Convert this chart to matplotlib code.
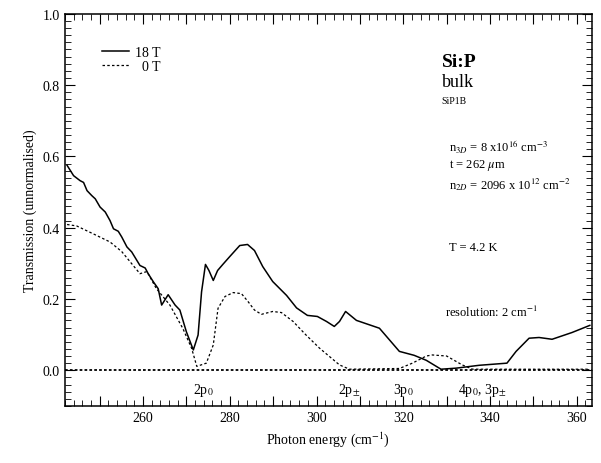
import numpy as np
import matplotlib
matplotlib.use("Agg")
import matplotlib.pyplot as plt
from matplotlib.ticker import MultipleLocator, FuncFormatter

plt.rcParams["font.family"] = ["Liberation Serif", "DejaVu Serif"]
plt.rcParams["mathtext.fontset"] = "stix"

# 18 T spectrum
x_18T = [242.5, 244.0, 245.5, 246.3, 247.1, 248.2, 249.0, 250.1, 251.3, 252.4,
         253.2, 254.3, 255.1, 256.3, 257.4, 258.6, 259.3, 260.5, 261.2, 262.4,
         263.5, 264.3, 265.8, 267.4, 268.5, 270.0, 271.6, 272.7, 273.5, 274.4,
         275.2, 276.2, 277.2, 278.4, 280.0, 282.3, 284.1, 285.7, 287.6, 289.9,
         293.1, 295.4, 297.9, 300.2, 302.3, 304.1, 305.3, 306.7, 309.2, 314.5,
         319.1, 322.5, 325.3, 328.7, 332.2, 337.5, 343.9, 346.0, 349.0, 351.3,
         354.3, 358.9, 363.0]
y_18T = [0.575, 0.546, 0.532, 0.527, 0.504, 0.490, 0.481, 0.458, 0.444, 0.420,
         0.397, 0.390, 0.374, 0.346, 0.332, 0.308, 0.294, 0.287, 0.271, 0.248,
         0.229, 0.183, 0.212, 0.183, 0.169, 0.108, 0.057, 0.099, 0.220, 0.297,
         0.280, 0.252, 0.280, 0.297, 0.319, 0.350, 0.353, 0.336, 0.291, 0.249,
         0.210, 0.175, 0.154, 0.151, 0.137, 0.123, 0.137, 0.165, 0.140, 0.118,
         0.053, 0.042, 0.028, 0.003, 0.006, 0.014, 0.020, 0.053, 0.090, 0.092,
         0.087, 0.106, 0.126]

# 0 T spectrum
x_0T = [242.5, 244.7, 248.5, 252.4, 255.1, 257.4, 259.3, 260.9, 263.1, 266.2,
        269.2, 271.2, 272.4, 274.6, 276.2, 277.3, 278.9, 280.8, 282.7, 284.2,
        285.7, 287.3, 289.9, 291.9, 294.6, 297.5, 300.7, 305.3, 307.6, 319.1,
        322.1, 325.3, 326.7, 330.0, 333.6, 336.0, 363.0]
y_0T = [0.409, 0.405, 0.383, 0.360, 0.333, 0.299, 0.271, 0.277, 0.229, 0.183,
        0.117, 0.062, 0.011, 0.020, 0.071, 0.174, 0.207, 0.218, 0.215, 0.193,
        0.169, 0.157, 0.165, 0.162, 0.137, 0.100, 0.062, 0.015, 0.003, 0.005,
        0.020, 0.040, 0.043, 0.040, 0.015, 0.003, 0.003]

lines_x = [273.8, 307.6, 320.0, 338.2]
lines_lbl = [r"2p$_0$", r"2p$_{\pm}$", r"3p$_0$", r"4p$_0$, 3p$_{\pm}$"]

fig = plt.figure(figsize=(6.01, 4.64), dpi=100)
ax = fig.add_axes([0.108, 0.123, 0.877, 0.845])

ax.axhline(0, color="black", lw=1.3, ls=(0, (1.5, 1.2)))
ax.plot(x_18T, y_18T, color="black", lw=1.1, label="18 T")
ax.plot(x_0T, y_0T, color="black", lw=0.9, ls=(0, (2, 1.8)), label="  0 T")

for xv, lbl in zip(lines_x, lines_lbl):
    ax.text(xv, -0.055, lbl, ha="center", va="center", fontsize=10)

ax.set_xlim(242, 363.5)
ax.set_ylim(-0.1, 1.0)
ax.xaxis.set_major_locator(MultipleLocator(10))
ax.xaxis.set_minor_locator(MultipleLocator(2))
ax.xaxis.set_major_formatter(FuncFormatter(lambda v, p: f"{v:.0f}" if v % 20 == 0 else ""))
ax.yaxis.set_major_locator(MultipleLocator(0.2))
ax.yaxis.set_minor_locator(MultipleLocator(0.02))
ax.yaxis.set_major_formatter(FuncFormatter(lambda v, p: f"{v:.1f}" if v >= -0.01 else ""))
ax.tick_params(which="both", direction="in", top=True, right=True, labelsize=10)
ax.tick_params(which="major", length=7)
ax.tick_params(which="minor", length=4)
for s in ax.spines.values():
    s.set_linewidth(1.1)

ax.set_xlabel(r"Photon energy (cm$^{-1}$)", fontsize=10)
ax.set_ylabel("Transmission (unnormalised)", fontsize=10)

ax.legend(loc="upper left", bbox_to_anchor=(0.046, 0.95), frameon=False,
          fontsize=10, handlelength=2.0, handletextpad=0.4, labelspacing=0.1)

ax.text(0.715, 0.878, "Si:P", transform=ax.transAxes, fontsize=14, fontweight="bold", va="center")
ax.text(0.715, 0.827, "bulk", transform=ax.transAxes, fontsize=13, va="center")
ax.text(0.715, 0.778, "SiP1B", transform=ax.transAxes, fontsize=7, va="center")
ax.text(0.729, 0.663, r"n$_{3D}$ = 8 x10$^{16}$ cm$^{-3}$", transform=ax.transAxes, fontsize=9, va="center")
ax.text(0.729, 0.617, r"t = 262 $\mu$m", transform=ax.transAxes, fontsize=9, va="center")
ax.text(0.729, 0.566, r"n$_{2D}$ = 2096 x 10$^{12}$ cm$^{-2}$", transform=ax.transAxes, fontsize=9, va="center")
ax.text(0.729, 0.406, "T = 4.2 K", transform=ax.transAxes, fontsize=9, va="center")
ax.text(0.721, 0.240, r"resolution: 2 cm$^{-1}$", transform=ax.transAxes, fontsize=9, va="center")

fig.savefig("out.png", dpi=100)
